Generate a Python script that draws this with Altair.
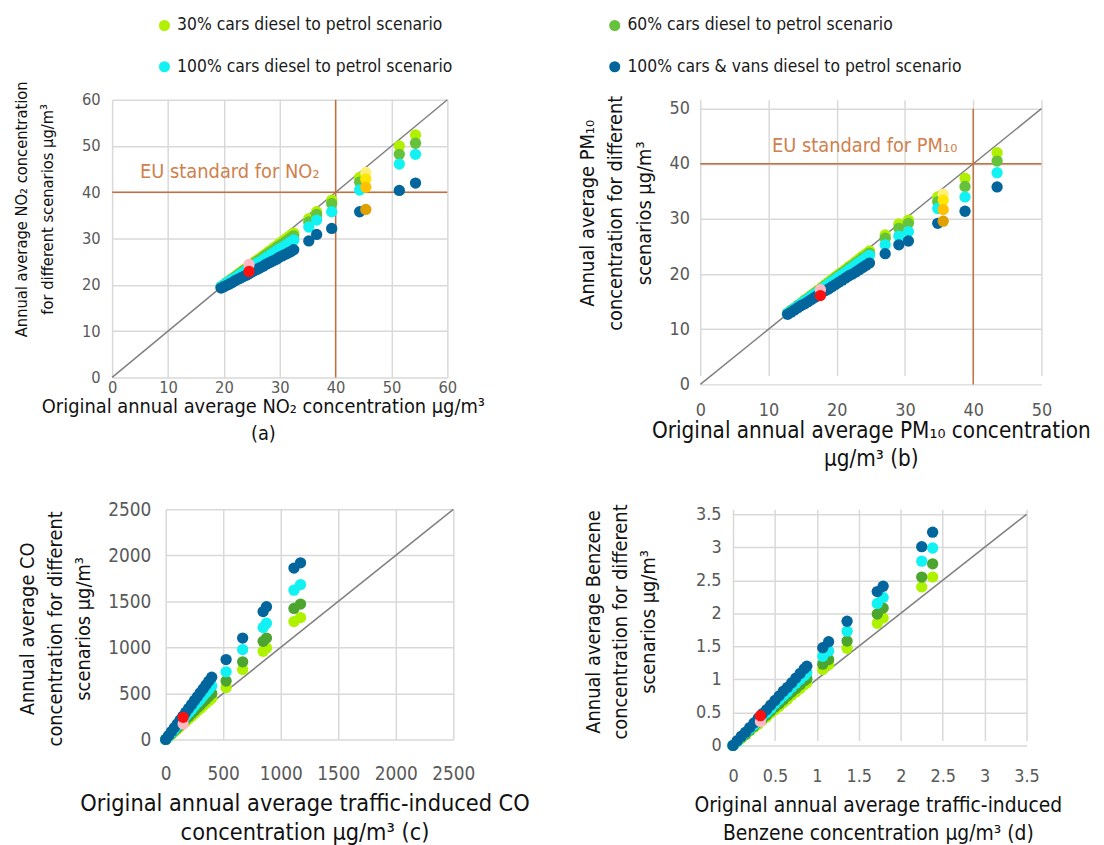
import altair as alt
import pandas as pd

FONT = "Liberation Sans Narrow, DejaVu Sans Condensed, Roboto Condensed, Arial Narrow, sans-serif"

SCEN = ["30% cars diesel to petrol scenario", "60% cars diesel to petrol scenario",
        "100% cars diesel to petrol scenario", "100% cars & vans diesel to petrol scenario"]
SCEN_COLORS_TOP = ["#b0f000", "#66c23a", "#12f2f2", "#02659b"]
SCEN_COLORS_BOTTOM = ["#aef200", "#4ca52f", "#12f2f2", "#02659b"]

HL_KINDS = ["light yellow", "yellow", "amber", "orange", "pink", "red"]
HL_COLORS = ["#fff07a", "#ffe600", "#ffc000", "#e0a000", "#ffb8c4", "#ff1010"]

# ---------------- panel (a) NO2 ----------------
a_x = [19.5, 20.0, 20.5, 21.0, 21.5, 22.0, 22.5, 23.0, 23.5, 24.0, 24.5, 25.0, 25.5, 26.0,
       26.5, 27.0, 27.5, 28.0, 28.5, 29.0, 29.5, 30.0, 30.5, 31.0, 31.5, 32.0, 32.5,
       35.2, 36.6, 39.3, 44.3, 51.4, 54.3]
a_s30 = [19.6, 20.0, 20.5, 20.9, 21.4, 21.8, 22.3, 22.7, 23.2, 23.6, 24.1, 24.5, 25.0, 25.4,
         25.8, 26.3, 26.7, 27.2, 27.6, 28.1, 28.5, 29.0, 29.4, 29.9, 30.3, 30.8, 31.2,
         34.3, 35.8, 38.3, 43.2, 50.0, 52.4]
a_s60 = [19.6, 20.0, 20.5, 20.9, 21.3, 21.7, 22.1, 22.6, 23.0, 23.4, 23.8, 24.3, 24.7, 25.1,
         25.5, 25.9, 26.4, 26.8, 27.2, 27.6, 28.1, 28.5, 28.9, 29.3, 29.7, 30.2, 30.6,
         33.6, 35.2, 37.6, 42.2, 48.2, 50.6]
a_s100 = [19.6, 20.0, 20.4, 20.8, 21.2, 21.5, 21.9, 22.3, 22.7, 23.1, 23.5, 23.9, 24.3, 24.7,
          25.0, 25.4, 25.8, 26.2, 26.6, 27.0, 27.4, 27.8, 28.1, 28.5, 28.9, 29.3, 29.7,
          32.5, 34.0, 35.8, 40.5, 46.1, 48.2]
a_vans = [19.3, 19.6, 19.9, 20.2, 20.5, 20.9, 21.2, 21.5, 21.8, 22.1, 22.4, 22.8, 23.1, 23.4,
          23.7, 24.0, 24.4, 24.7, 25.0, 25.3, 25.6, 26.0, 26.3, 26.6, 26.9, 27.2, 27.6,
          29.5, 30.9, 32.2, 35.8, 40.4, 42.0]
a_hl_x = [45.4, 45.4, 45.4, 45.4, 24.5, 24.5]
a_hl_y = [44.3, 42.9, 41.1, 36.3, 24.4, 22.9]
a_hl_kind = ["light yellow", "yellow", "amber", "orange", "pink", "red"]

# ---------------- panel (b) PM10 ----------------
b_x = [12.8, 13.3, 13.8, 14.3, 14.8, 15.3, 15.8, 16.3, 16.8, 17.3, 17.8, 18.3, 18.8, 19.3,
       19.8, 20.3, 20.8, 21.3, 21.8, 22.3, 22.8, 23.3, 23.8, 24.3, 24.8,
       27.1, 29.1, 30.5, 34.8, 38.8, 43.5]
b_s30 = [12.9, 13.4, 13.8, 14.3, 14.8, 15.3, 15.7, 16.2, 16.7, 17.1, 17.6, 18.1, 18.6, 19.0,
         19.5, 20.0, 20.4, 20.9, 21.4, 21.8, 22.3, 22.8, 23.3, 23.7, 24.2,
         27.1, 29.1, 29.8, 34.0, 37.4, 42.0]
b_s60 = [12.9, 13.4, 13.8, 14.3, 14.7, 15.2, 15.6, 16.1, 16.5, 17.0, 17.4, 17.9, 18.3, 18.8,
         19.3, 19.7, 20.2, 20.6, 21.1, 21.5, 22.0, 22.4, 22.9, 23.3, 23.8,
         26.5, 28.3, 29.2, 33.1, 35.9, 40.5]
b_s100 = [12.9, 13.3, 13.8, 14.2, 14.7, 15.1, 15.5, 16.0, 16.4, 16.8, 17.3, 17.7, 18.2, 18.6,
          19.0, 19.5, 19.9, 20.3, 20.8, 21.2, 21.7, 22.1, 22.5, 23.0, 23.4,
          25.3, 26.9, 27.7, 31.9, 34.0, 38.4]
b_vans = [12.7, 13.1, 13.5, 13.9, 14.3, 14.6, 15.0, 15.4, 15.8, 16.2, 16.6, 17.0, 17.3, 17.7,
          18.1, 18.5, 18.9, 19.3, 19.7, 20.0, 20.4, 20.8, 21.2, 21.6, 22.0,
          23.7, 25.3, 26.0, 29.2, 31.4, 35.8]
b_hl_x = [35.6, 35.6, 35.6, 35.6, 17.6, 17.6]
b_hl_y = [34.5, 33.4, 31.7, 29.6, 17.2, 16.1]
b_hl_kind = ["light yellow", "yellow", "amber", "orange", "pink", "red"]

# ---------------- panel (c) CO ----------------
c_x = [0, 25, 50, 75, 100, 125, 150, 175, 200, 225, 250, 275, 300, 325, 350, 375, 400,
       525, 669, 847, 876, 1115, 1172]
c_s30 = [0, 28, 56, 84, 112, 140, 168, 196, 224, 252, 280, 308, 336, 364, 392, 420, 448,
         563, 761, 958, 994, 1281, 1324]
c_s60 = [0, 31, 63, 94, 125, 156, 188, 219, 250, 281, 313, 344, 375, 406, 438, 469, 500,
         635, 843, 1066, 1101, 1424, 1471]
c_s100 = [0, 36, 73, 109, 145, 181, 218, 254, 290, 326, 363, 399, 435, 471, 508, 544, 580,
          735, 976, 1216, 1263, 1622, 1683]
c_vans = [0, 42, 85, 127, 169, 211, 254, 296, 338, 380, 423, 465, 507, 549, 592, 634, 676,
          868, 1101, 1389, 1442, 1862, 1919]
c_hl_x = [152, 152]
c_hl_y = [169, 240]
c_hl_kind = ["pink", "red"]

# ---------------- panel (d) Benzene ----------------
d_x = [0, 0.05, 0.10, 0.15, 0.20, 0.25, 0.30, 0.35, 0.40, 0.45, 0.50, 0.55, 0.60, 0.65,
       0.70, 0.75, 0.80, 0.85, 0.88, 1.07, 1.14, 1.36, 1.72, 1.79, 2.25, 2.38]
d_s30 = [0, 0.05, 0.11, 0.16, 0.22, 0.27, 0.32, 0.38, 0.43, 0.49, 0.54, 0.59, 0.65, 0.70,
         0.76, 0.81, 0.86, 0.92, 0.95, 1.15, 1.22, 1.47, 1.85, 1.93, 2.40, 2.55]
d_s60 = [0, 0.06, 0.12, 0.17, 0.23, 0.29, 0.35, 0.40, 0.46, 0.52, 0.58, 0.63, 0.69, 0.75,
         0.81, 0.86, 0.92, 0.98, 1.01, 1.23, 1.30, 1.58, 1.99, 2.08, 2.55, 2.75]
d_s100 = [0, 0.06, 0.13, 0.19, 0.25, 0.31, 0.38, 0.44, 0.50, 0.56, 0.63, 0.69, 0.75, 0.81,
          0.88, 0.94, 1.00, 1.06, 1.10, 1.35, 1.43, 1.73, 2.15, 2.24, 2.79, 2.99]
d_vans = [0, 0.07, 0.14, 0.20, 0.27, 0.34, 0.41, 0.48, 0.54, 0.61, 0.68, 0.75, 0.82, 0.88,
          0.95, 1.02, 1.09, 1.16, 1.20, 1.48, 1.57, 1.88, 2.33, 2.41, 3.01, 3.23]
d_hl_x = [0.327, 0.327]
d_hl_y = [0.36, 0.45]
d_hl_kind = ["pink", "red"]

EU_LIMIT = 40

GRID = "#d9d9d9"
DIAG = "#808080"
EU_LINE = "#c0703c"
EU_TEXT = "#d0804c"

LEGEND = alt.Legend(
    title=None, orient="none", legendX=44, legendY=-84, columns=2, direction="horizontal",
    symbolType="circle", symbolSize=125, labelFont=FONT, labelFontSize=17.5,
    labelColor="#1a1a1a", columnPadding=154, rowPadding=23, labelLimit=500,
    symbolStrokeWidth=0,
)
fill_enc = alt.Fill("kind:N", scale=alt.Scale(domain=HL_KINDS, range=HL_COLORS), legend=None)


def panel(x, s30, s60, s100, svans, hl_x, hl_y, hl_kind, top, ticks, fmt, w, h, dx, dy,
          xtitle, ytitle, xpad, ypad, xtx, xty, ytx, yty, xts, yts, lfs, colors, legend,
          xlh=28, ylh=28, eu_label=None, eu_x=None, eu_y=None):
    df = pd.DataFrame({"x": x, SCEN[0]: s30, SCEN[1]: s60, SCEN[2]: s100, SCEN[3]: svans})
    df = df.melt(id_vars="x", var_name="scenario", value_name="y")
    hl = pd.DataFrame({"x": hl_x, "y": hl_y, "kind": hl_kind})
    diag = pd.DataFrame({"x": [0, top], "y": [0, top]})

    common_axis = dict(values=ticks, format=fmt, grid=True, gridColor=GRID, gridWidth=1.5,
                       domain=False, ticks=False, labelFont=FONT, labelFontSize=lfs,
                       labelColor="#595959", labelOverlap=False, labelFlush=False,
                       titleFont=FONT, titleFontWeight="normal", titleColor="#111111")
    X = alt.X("x:Q", scale=alt.Scale(domain=[0, top], nice=False, range=[dx, dx + w]),
              axis=alt.Axis(title=xtitle, labelPadding=xpad, titleX=xtx + dx, titleY=xty,
                            titleBaseline="top", titleAlign="center", titleFontSize=xts,
                            titleLineHeight=xlh, **common_axis))
    Y = alt.Y("y:Q", scale=alt.Scale(domain=[0, top], nice=False, range=[h + dy, dy]),
              axis=alt.Axis(title=ytitle, labelPadding=ypad, titleX=ytx, titleY=yty + dy,
                            titleBaseline="top", titleAlign="center", titleAngle=270,
                            titleFontSize=yts, titleLineHeight=ylh,
                            offset=-dx, **common_axis))
    color_enc = alt.Color("scenario:N", scale=alt.Scale(domain=SCEN, range=colors),
                          legend=legend)

    layers = [
        alt.Chart(diag).mark_line(color=DIAG, strokeWidth=1.5).encode(x=X, y=Y),
    ]
    if eu_label is not None:
        layers.append(alt.Chart(pd.DataFrame({"x": [0], "x2": [top], "y": [EU_LIMIT]})).mark_rule(
            color=EU_LINE, strokeWidth=1.5).encode(x=X, x2="x2:Q", y=Y))
        layers.append(alt.Chart(pd.DataFrame({"x": [EU_LIMIT], "y": [0], "y2": [top]})).mark_rule(
            color=EU_LINE, strokeWidth=1.5).encode(x=X, y=Y, y2="y2:Q"))
        layers.append(alt.Chart(pd.DataFrame({"x": [eu_x], "y": [eu_y], "t": [eu_label]})).mark_text(
            align="left", baseline="middle", font=FONT, fontSize=20, color=EU_TEXT
        ).encode(x=X, y=Y, text="t:N"))
    layers.append(alt.Chart(df).mark_circle(size=130, opacity=1).encode(x=X, y=Y, color=color_enc))
    layers.append(alt.Chart(hl).mark_circle(size=130, opacity=1).encode(x=X, y=Y, fill=fill_enc))
    return alt.layer(*layers).properties(width=w + dx, height=h + dy)


pa = panel(a_x, a_s30, a_s60, a_s100, a_vans, a_hl_x, a_hl_y, a_hl_kind, 60,
           [0, 10, 20, 30, 40, 50, 60], "d", 338, 280, 0, 0,
           ["Original annual average NO₂ concentration μg/m³", "(a)"],
           ["Annual average NO₂ concentration", "for different scenarios μg/m³"],
           2, 12, 152, 19, -99, 110, 20, 16.5, 16.5, SCEN_COLORS_TOP, LEGEND, xlh=28, ylh=26,
           eu_label="EU standard for NO₂", eu_x=5.0, eu_y=44.3)
pb = panel(b_x, b_s30, b_s60, b_s100, b_vans, b_hl_x, b_hl_y, b_hl_kind, 50,
           [0, 10, 20, 30, 40, 50], "d", 344, 278, 0, 9,
           ["Original annual average PM₁₀ concentration", "μg/m³    (b)"],
           ["Annual average PM₁₀", "concentration for different", "scenarios μg/m³"],
           17, 11, 172, 36, -124, 105, 22.5, 20, 18, SCEN_COLORS_TOP, None, xlh=28, ylh=29,
           eu_label="EU standard for PM₁₀", eu_x=10.5, eu_y=43.2)
pc = panel(c_x, c_s30, c_s60, c_s100, c_vans, c_hl_x, c_hl_y, c_hl_kind, 2500,
           [0, 500, 1000, 1500, 2000, 2500], "d", 290, 232, 54, 0,
           ["Original annual average traffic-induced CO", "concentration μg/m³    (c)"],
           ["Annual average CO", "concentration for different", "scenarios μg/m³"],
           25, 15, 140, 53, -149, 120, 23.5, 20, 19, SCEN_COLORS_BOTTOM, None, xlh=29, ylh=28)
pd_ = panel(d_x, d_s30, d_s60, d_s100, d_vans, d_hl_x, d_hl_y, d_hl_kind, 3.5,
            [0, 0.5, 1, 1.5, 2, 2.5, 3, 3.5], ".1~f", 296, 233, 33, 5,
            ["Original annual average traffic-induced", "Benzene concentration μg/m³    (d)"],
            ["Annual average Benzene", "concentration for different", "scenarios μg/m³"],
            22, 12, 146, 50, -151, 108, 21, 20, 18, SCEN_COLORS_BOTTOM, None, xlh=28, ylh=28)

chart = alt.concat(pa, pb, pc, pd_, columns=2, bounds="flush", align="each",
                   spacing={"row": 126, "column": 249}).resolve_scale(
    color="independent").configure_view(stroke=None).properties(
    background="white", padding={"left": 6, "top": 5, "right": 5, "bottom": 5})

chart.save("out.html", embed_options={"renderer": "svg", "actions": False})
